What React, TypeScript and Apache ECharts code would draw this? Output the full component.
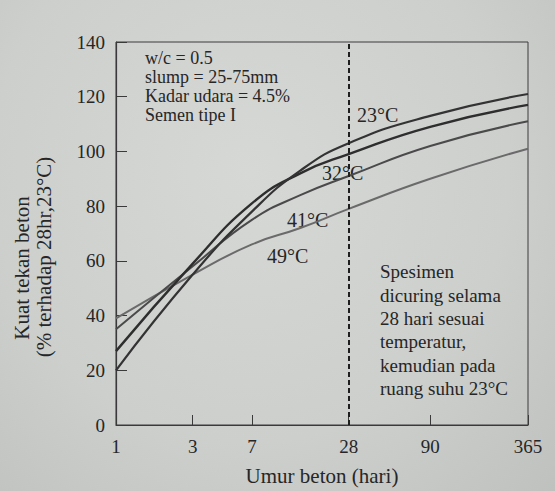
import React, { useEffect, useRef } from "react";
import * as echarts from "echarts";

const days = [1, 3, 7, 14, 28, 90, 365];
const t23 = [20, 55, 78, 93, 103, 113, 121];
const t32 = [27, 59, 81, 92, 99, 109, 117];
const t41 = [35, 58, 75, 84, 91, 102, 111];
const t49 = [39, 55, 66, 72, 79, 90, 101];
const xTicks = [1, 3, 7, 28, 90, 365];
const curingDay = 28;

const FONT = "Liberation Serif";
const INK = "#262626";

export default function App() {
  const ref = useRef<HTMLDivElement>(null);
  useEffect(() => {
    if (!ref.current) return;
    const chart = echarts.init(ref.current, undefined, { renderer: "svg" });
    const mk = (name: string, vals: number[], color: string, width: number, extra: any = {}) => ({
      name,
      type: "line",
      data: days.map((d, i) => [d, vals[i]]),
      smooth: 0.5,
      showSymbol: false,
      lineStyle: { color, width },
      ...extra,
    });
    chart.setOption({
      animation: false,
      backgroundColor: "transparent",
      grid: {
        left: 116,
        right: 27,
        top: 42,
        bottom: 59,
        show: true,
        borderColor: "#3a3a3a",
        borderWidth: 1,
      },
      xAxis: {
        type: "log",
        logBase: 10,
        min: 1,
        max: 365,
        name: "Umur beton (hari)",
        nameLocation: "middle",
        nameGap: 40,
        nameTextStyle: { fontFamily: FONT, fontSize: 21, color: INK },
        axisLine: { lineStyle: { color: "#3a3a3a", width: 1.2 } },
        axisTick: { inside: true, length: 10, customValues: xTicks, lineStyle: { color: "#3a3a3a" } },
        minorTick: { show: false },
        splitLine: { show: false },
        axisLabel: {
          customValues: xTicks,
          formatter: (v: number) => String(Math.round(v)),
          fontFamily: FONT,
          fontSize: 19,
          color: INK,
          margin: 12,
        },
      },
      yAxis: {
        type: "value",
        min: 0,
        max: 140,
        interval: 20,
        axisLine: { show: true, lineStyle: { color: "#3a3a3a", width: 1.2 } },
        axisTick: { show: true, inside: true, length: 11, lineStyle: { color: "#3a3a3a" } },
        splitLine: { show: false },
        axisLabel: { fontFamily: FONT, fontSize: 19, color: INK, margin: 11 },
      },
      series: [
        mk("49°C", t49, "#6a6a6a", 2),
        mk("41°C", t41, "#4a4a4a", 2),
        mk("32°C", t32, "#2e2e2e", 2.4),
        mk("23°C", t23, "#333333", 2.2, {
          markLine: {
            silent: true,
            symbol: "none",
            label: { show: false },
            lineStyle: { color: "#1e1e1e", width: 2, type: [5, 3] },
            data: [{ xAxis: curingDay }],
          },
        }),
      ],
      graphic: [
        {
          type: "text",
          x: 145,
          y: 48,
          style: {
            text: "w/c = 0.5\nslump = 25-75mm\nKadar udara = 4.5%\nSemen tipe I",
            font: `18px "${FONT}"`,
            lineHeight: 19,
            fill: INK,
            textVerticalAlign: "top",
          },
        },
        {
          type: "text",
          x: 380,
          y: 260,
          style: {
            text: "Spesimen\ndicuring selama\n28 hari sesuai\ntemperatur,\nkemudian pada\nruang suhu 23°C",
            font: `19px "${FONT}"`,
            lineHeight: 23.4,
            fill: INK,
            textVerticalAlign: "top",
          },
        },
        { type: "text", x: 357, y: 115, style: { text: "23°C", font: `20px "${FONT}"`, fill: INK, textVerticalAlign: "middle" } },
        { type: "text", x: 322, y: 173, style: { text: "32°C", font: `20px "${FONT}"`, fill: INK, textVerticalAlign: "middle" } },
        { type: "text", x: 287, y: 220, style: { text: "41°C", font: `20px "${FONT}"`, fill: INK, textVerticalAlign: "middle" } },
        { type: "text", x: 267, y: 256, style: { text: "49°C", font: `20px "${FONT}"`, fill: INK, textVerticalAlign: "middle" } },
        {
          type: "text",
          x: 22,
          y: 268,
          rotation: Math.PI / 2,
          style: { text: "Kuat tekan beton", font: `21px "${FONT}"`, fill: INK, textAlign: "center", textVerticalAlign: "middle" },
        },
        {
          type: "text",
          x: 44,
          y: 257,
          rotation: Math.PI / 2,
          style: { text: "(% terhadap 28hr,23°C)", font: `21px "${FONT}"`, fill: INK, textAlign: "center", textVerticalAlign: "middle" },
        },
      ],
    });
    return () => chart.dispose();
  }, []);
  return (
    <div
      style={{
        position: "absolute",
        left: 0,
        top: 0,
        width: 555,
        height: 491,
        background: "radial-gradient(ellipse at 45% 35%, #d6d8d6 0%, #cdcfcd 60%, #bfc1bf 100%)",
      }}
    >
      <div ref={ref} style={{ width: 555, height: 491 }} />
    </div>
  );
}
